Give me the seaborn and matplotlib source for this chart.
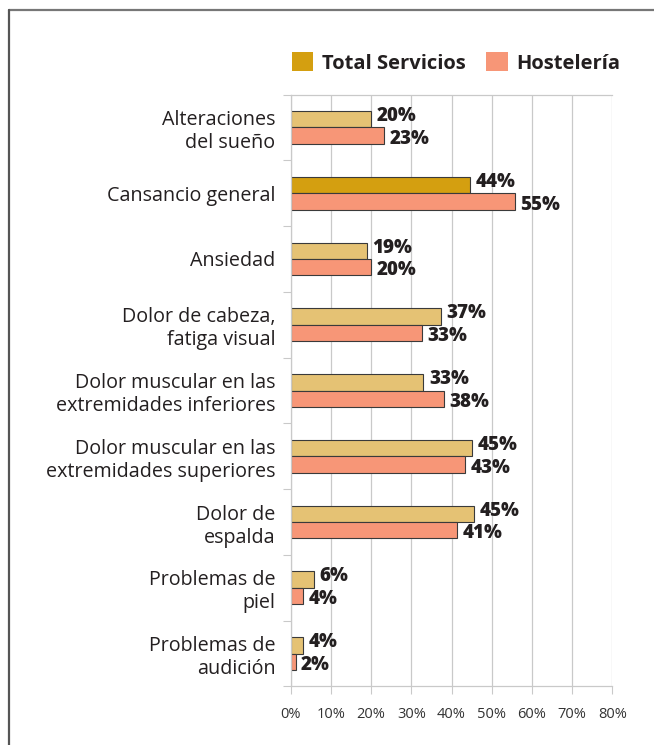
import matplotlib
matplotlib.use("Agg")
import matplotlib.pyplot as plt
from matplotlib.lines import Line2D
from matplotlib.patches import Patch
import seaborn as sns
import pandas as pd
import numpy as np

categories = [
    "Alteraciones\ndel sueño",
    "Cansancio general",
    "Ansiedad",
    "Dolor de cabeza,\nfatiga visual",
    "Dolor muscular en las\nextremidades inferiores",
    "Dolor muscular en las\nextremidades superiores",
    "Dolor de\nespalda",
    "Problemas de\npiel",
    "Problemas de\naudición",
]
series = ["Total Servicios", "Hostelería"]
total_values = [20.0, 44.6, 19.0, 37.4, 33.0, 45.2, 45.7, 5.8, 3.1]
host_values = [23.2, 55.8, 20.0, 32.7, 38.1, 43.3, 41.4, 3.0, 1.2]
total_labels = ["20%", "44%", "19%", "37%", "33%", "45%", "45%", "6%", "4%"]
host_labels = ["23%", "55%", "20%", "33%", "38%", "43%", "41%", "4%", "2%"]
xticks = [0, 10, 20, 30, 40, 50, 60, 70, 80]
xtick_labels = ["0%", "10%", "20%", "30%", "40%", "50%", "60%", "70%", "80%"]

gold_light = "#E5C274"
gold_dark = "#D49F10"
salmon = "#F79677"
edge = "#3a3a3a"
grid_c = "#c9c9c9"
text_c = "#231f20"

df = pd.DataFrame({
    "category": categories * 2,
    "series": [series[0]] * len(categories) + [series[1]] * len(categories),
    "value": total_values + host_values,
})

sns.set_theme(style="white")
plt.rcParams["font.family"] = ["Open Sans", "DejaVu Sans"]

W, H = 654, 745
fig = plt.figure(figsize=(W / 100, H / 100), dpi=100)
ax = fig.add_axes([290.7 / W, 1 - 686.4 / H, (612.3 - 290.7) / W, (686.4 - 94.6) / H])

sns.barplot(data=df, x="value", y="category", hue="series", orient="h",
            palette={series[0]: gold_light, series[1]: salmon},
            hue_order=series, order=categories, width=0.5, saturation=1,
            edgecolor=edge, linewidth=0.8, ax=ax, legend=False)

# highlight Cansancio general total bar
ax.containers[0][1].set_facecolor(gold_dark)

ax.set_xlim(0, 80)
ax.set_ylim(len(categories) - 0.5, -0.5)
ax.set_xlabel("")
ax.set_ylabel("")
ax.set_xticks(xticks)
ax.set_xticklabels(xtick_labels, fontsize=10.5, color="#333333")
ax.tick_params(axis="x", length=6, width=0.8, color=grid_c, pad=9, bottom=True)
ax.set_yticks(range(len(categories)))
ax.set_yticklabels(categories, fontsize=14.2, color=text_c, linespacing=1.2)
ax.tick_params(axis="y", which="major", length=0, pad=11)
ax.set_yticks(np.arange(-0.5, len(categories), 1), minor=True)
ax.tick_params(axis="y", which="minor", length=5.5, width=0.8, color=grid_c, left=True)

ax.grid(axis="x", color=grid_c, linewidth=0.9)
ax.set_axisbelow(True)
for s in ["left", "bottom", "top"]:
    ax.spines[s].set_color(grid_c)
    ax.spines[s].set_linewidth(0.9)
ax.spines["right"].set_visible(False)

# value labels
for cont, labs, dy in [(ax.containers[0], total_labels, 2.3), (ax.containers[1], host_labels, -2.3)]:
    for p, lab in zip(cont, labs):
        ax.annotate(lab, (p.get_width(), p.get_y() + p.get_height() / 2),
                    xytext=(4, dy), textcoords="offset points",
                    ha="left", va="center", fontsize=13.5, fontweight="heavy", color=text_c)

# legend
handles = [Patch(facecolor=gold_dark, edgecolor="none"), Patch(facecolor=salmon, edgecolor="none")]
fig.legend(handles, series, loc="center left", bbox_to_anchor=(291.5 / W, 1 - 63 / H),
           ncol=2, frameon=False, borderaxespad=0, borderpad=0,
           prop={"family": ["Open Sans", "DejaVu Sans"], "weight": "bold", "size": 14.5},
           handlelength=1.09, handleheight=1.09, handletextpad=0.4, columnspacing=1.05,
           labelcolor=text_c)

# outer frame
fig.add_artist(Line2D([9 / W, 1], [1 - 10 / H, 1 - 10 / H], color="#777777", linewidth=1.6,
                      transform=fig.transFigure))
fig.add_artist(Line2D([9 / W, 9 / W], [0, 1 - 10 / H], color="#555555", linewidth=1.6,
                      transform=fig.transFigure))

fig.savefig("out.png", dpi=100)
